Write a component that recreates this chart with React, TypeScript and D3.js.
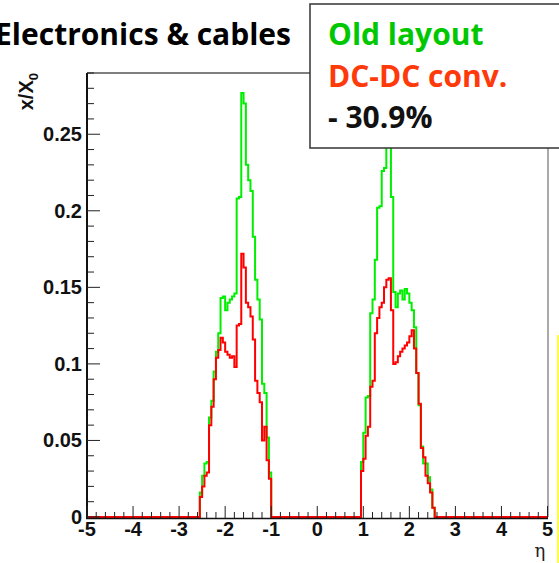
import React from "react";
import * as d3 from "d3";

// ---- data (eta bins of width 0.05) ----
const binWidth = 0.05;
const leftStart = -2.55;
const rightStart = 0.95;

const oldLeft = [0.016, 0.027, 0.035, 0.036, 0.065, 0.076, 0.095, 0.108, 0.120, 0.143, 0.144, 0.135, 0.140, 0.142, 0.144, 0.146, 0.208, 0.209, 0.277, 0.270, 0.230, 0.220, 0.213, 0.183, 0.155, 0.142, 0.129, 0.087, 0.081, 0.052, 0.029];
const dcLeft = [0.013, 0.020, 0.027, 0.029, 0.060, 0.072, 0.090, 0.104, 0.109, 0.117, 0.114, 0.108, 0.106, 0.104, 0.105, 0.098, 0.125, 0.126, 0.172, 0.163, 0.140, 0.137, 0.131, 0.116, 0.089, 0.081, 0.075, 0.050, 0.059, 0.037, 0.025];
const oldRight = [0.036, 0.055, 0.078, 0.079, 0.133, 0.142, 0.168, 0.202, 0.203, 0.226, 0.228, 0.270, 0.262, 0.209, 0.147, 0.137, 0.146, 0.148, 0.142, 0.149, 0.146, 0.140, 0.135, 0.124, 0.094, 0.073, 0.046, 0.035, 0.035, 0.026, 0.018, 0.006];
const dcRight = [0.030, 0.038, 0.053, 0.059, 0.085, 0.089, 0.120, 0.130, 0.137, 0.140, 0.150, 0.155, 0.156, 0.135, 0.100, 0.101, 0.105, 0.108, 0.110, 0.112, 0.114, 0.118, 0.122, 0.110, 0.094, 0.074, 0.045, 0.039, 0.027, 0.022, 0.016, 0.006];

const xMajorTicks = [-5, -4, -3, -2, -1, 0, 1, 2, 3, 4, 5];
const yMajorTicks = [0, 0.05, 0.1, 0.15, 0.2, 0.25];
const yTickLabels = ["0", "0.05", "0.1", "0.15", "0.2", "0.25"];

const title = "Electronics & cables";
const legendLines = [
  { text: "Old layout", color: "#00c800" },
  { text: "DC-DC conv.", color: "#ff3a0a" },
  { text: "- 30.9%", color: "#111" },
];

type Pt = { eta: number; v: number };

function buildSeries(left: number[], right: number[]): Pt[] {
  const pts: Pt[] = [{ eta: -5, v: 0 }];
  left.forEach((v, i) => pts.push({ eta: leftStart + i * binWidth, v }));
  pts.push({ eta: leftStart + left.length * binWidth, v: 0 });
  right.forEach((v, i) => pts.push({ eta: rightStart + i * binWidth, v }));
  pts.push({ eta: rightStart + right.length * binWidth, v: 0 });
  pts.push({ eta: 5, v: 0 });
  return pts;
}

export default function App() {
  const x = d3.scaleLinear().domain([-5, 5]).range([87, 547.5]);
  const y = d3.scaleLinear().domain([0, 0.29]).range([517, 73]);

  const line = d3
    .line<Pt>()
    .x((d) => x(d.eta))
    .y((d) => y(d.v))
    .curve(d3.curveStepAfter);

  const oldPath = line(buildSeries(oldLeft, oldRight)) || "";
  const dcPath = line(buildSeries(dcLeft, dcRight)) || "";

  const xMinor = d3.range(-5, 5.0001, 0.2).filter((t) => Math.abs(t - Math.round(t)) > 1e-6);
  const yMinor = d3.range(0, 0.2901, 0.01).filter((t) => Math.abs(t / 0.05 - Math.round(t / 0.05)) > 1e-6);

  const axisFont = "'Liberation Sans', Arial, sans-serif";
  const textFont = "'Open Sans', sans-serif";

  return (
    <svg
      width={559}
      height={563}
      style={{ position: "absolute", left: 0, top: 0, background: "#fff" }}
    >
      <rect x={0} y={0} width={559} height={563} fill="#fff" />
      {/* frame top/right */}
      <line x1={x(-5)} x2={x(5)} y1={73} y2={73} stroke="#555" strokeWidth={1.5} />
      <line x1={548} x2={548} y1={73} y2={517} stroke="#aaa" strokeWidth={2} />

      {/* histograms */}
      <path d={oldPath} fill="none" stroke="#00ee00" strokeWidth={2} />
      <path d={dcPath} fill="none" stroke="#ff0000" strokeWidth={2} />

      {/* axes */}
      <line x1={87} x2={87} y1={73} y2={519} stroke="#111" strokeWidth={2} />
      <line x1={86} x2={548} y1={518.5} y2={518.5} stroke="#111" strokeWidth={1.5} />

      {/* y ticks */}
      {yMajorTicks.map((t) => (
        <line key={"ym" + t} x1={87} x2={100} y1={y(t)} y2={y(t)} stroke="#222" strokeWidth={1} />
      ))}
      {yMinor.map((t) => (
        <line key={"yn" + t} x1={87} x2={94} y1={y(t)} y2={y(t)} stroke="#222" strokeWidth={1} />
      ))}
      {yMajorTicks.map((t, i) => (
        <text
          key={"yl" + t}
          x={82}
          y={y(t) + 7}
          textAnchor="end"
          fontFamily={axisFont}
          fontWeight="bold"
          fontSize={20}
          fill="#111"
        >
          {yTickLabels[i]}
        </text>
      ))}

      {/* x ticks */}
      {xMajorTicks.map((t) => (
        <line key={"xm" + t} x1={x(t)} x2={x(t)} y1={518} y2={506} stroke="#222" strokeWidth={1} />
      ))}
      {xMinor.map((t) => (
        <line key={"xn" + t} x1={x(t)} x2={x(t)} y1={518} y2={512} stroke="#222" strokeWidth={1} />
      ))}
      {xMajorTicks.map((t) => (
        <text
          key={"xl" + t}
          x={x(t)}
          y={536}
          textAnchor="middle"
          fontFamily={axisFont}
          fontWeight="bold"
          fontSize={20}
          fill="#111"
        >
          {String(t)}
        </text>
      ))}

      {/* axis titles */}
      <text
        transform="translate(33,73) rotate(-90)"
        textAnchor="end"
        fontFamily={axisFont}
        fontWeight="bold"
        fontSize={20}
        fill="#111"
      >
        x/X
        <tspan fontSize={13} dy={5}>
          0
        </tspan>
      </text>
      <text x={540} y={557} textAnchor="middle" fontFamily="'DejaVu Serif', serif" fontSize={18} fill="#222">
        η
      </text>

      {/* title */}
      <text x={291} y={45} textAnchor="end" fontFamily={textFont} fontWeight="bold" fontSize={30} fill="#000">
        {title}
      </text>

      {/* legend box */}
      <rect x={310} y={4} width={260} height={144} fill="#fff" stroke="#333" strokeWidth={1.5} />
      {legendLines.map((l, i) => (
        <text
          key={l.text}
          x={328}
          y={45 + i * 41.5}
          fontFamily={textFont}
          fontWeight="bold"
          fontSize={30}
          fill={l.color}
        >
          {l.text}
        </text>
      ))}

      {/* yellow strip at right edge */}
      <line x1={558} x2={558} y1={335} y2={563} stroke="#ffff00" strokeWidth={1.5} />
    </svg>
  );
}
